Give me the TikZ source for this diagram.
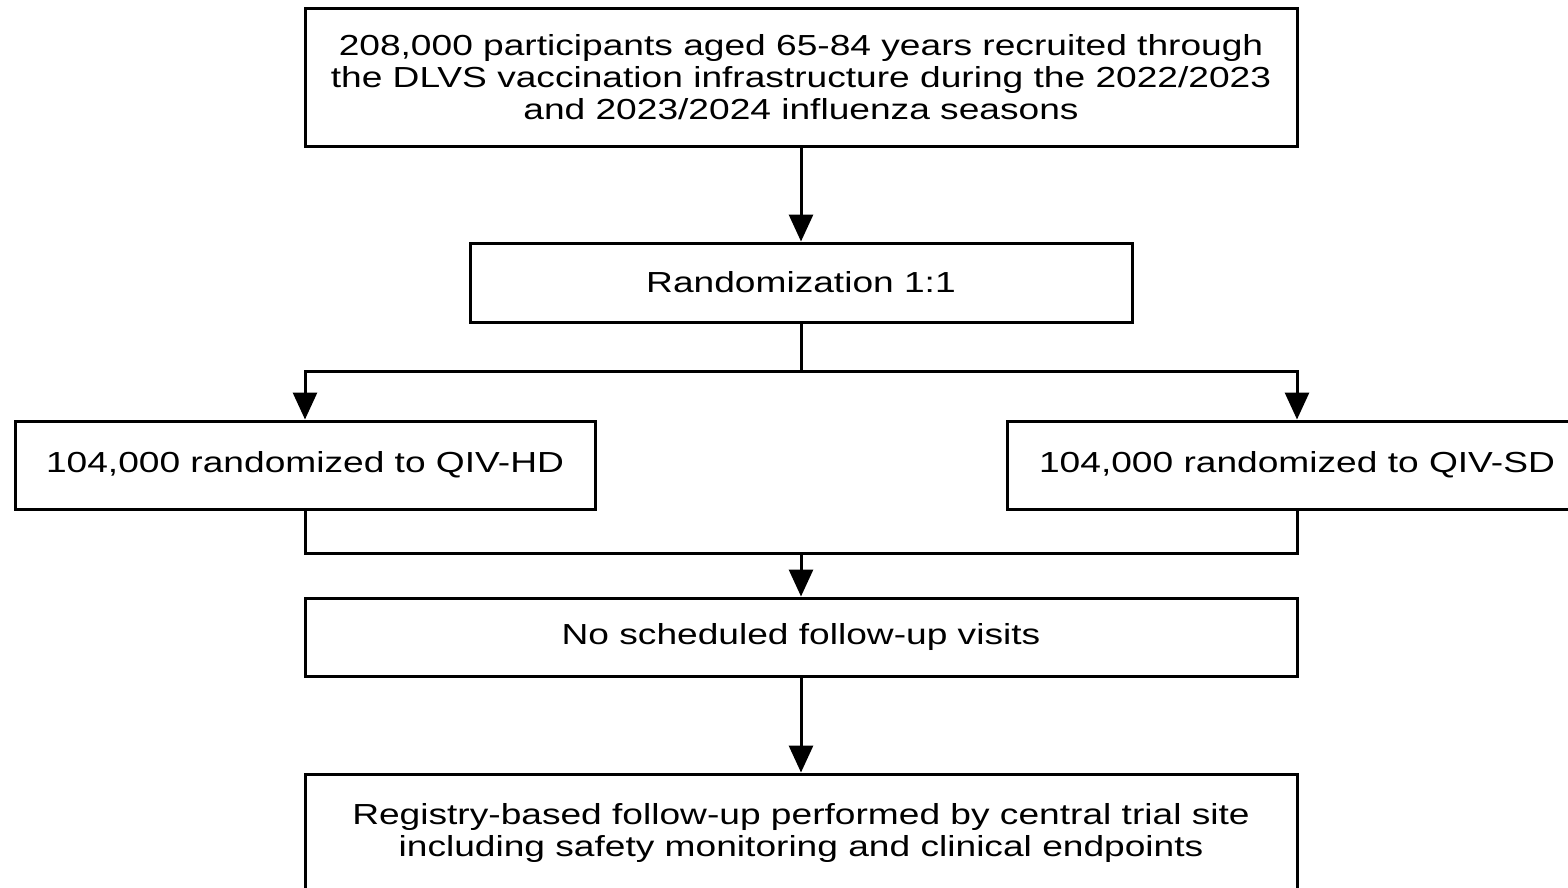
\documentclass[tikz,border=0pt]{standalone}
\usepackage{fontspec}
\setmainfont{Liberation Sans}[FakeStretch=1.28]
\usepackage{tikz}
\usetikzlibrary{arrows.meta,positioning}

\begin{document}
\begin{tikzpicture}[
x=1pt,y=-1pt,
font=\fontsize{29}{32}\selectfont,
box/.style={draw,line width=3pt,inner sep=0pt,align=center},
oneway/.style={-{Triangle[width=24pt,length=27pt]},line width=3pt},
link/.style={line width=3pt}]
    % Page frame
    \clip (0,0) rectangle (1568,887);
    \useasboundingbox (0,0) rectangle (1568,887);

    % Draw boxes
    \node (recruit) [box,minimum width=992pt,minimum height=138pt] at (801,77)
        {208,000 participants aged 65-84 years recruited through\\
         the DLVS vaccination infrastructure during the 2022/2023\\
         and 2023/2024 influenza seasons};
    \node (random) [box,minimum width=662pt,minimum height=79pt] at (801,282.5)
        {Randomization 1:1};
    \node (hd) [box,minimum width=580pt,minimum height=88pt] at (305,465)
        {104,000 randomized to QIV-HD};
    \node (sd) [box,minimum width=580pt,minimum height=88pt] at (1297,465)
        {104,000 randomized to QIV-SD};
    \node (novisit) [box,minimum width=992pt,minimum height=78pt] at (801,637)
        {No scheduled follow-up visits};
    \node (registry) [box,minimum width=992pt,minimum height=118pt] at (801,833)
        {Registry-based follow-up performed by central trial site\\
         including safety monitoring and clinical endpoints};

    \draw
    (801,371) coordinate (split)
    (801,553) coordinate (merge);

    % Draw connectors
    \draw[oneway] (recruit) -- (random);
    \draw[link] (random) -- (split);
    \draw[oneway] (split) -| (hd.north);
    \draw[oneway] (split) -| (sd.north);
    \draw[link] (hd.south) |- (merge) -| (sd.south);
    \draw[oneway] (merge) -- (novisit);
    \draw[oneway] (novisit) -- (registry);

\end{tikzpicture}
\end{document}
